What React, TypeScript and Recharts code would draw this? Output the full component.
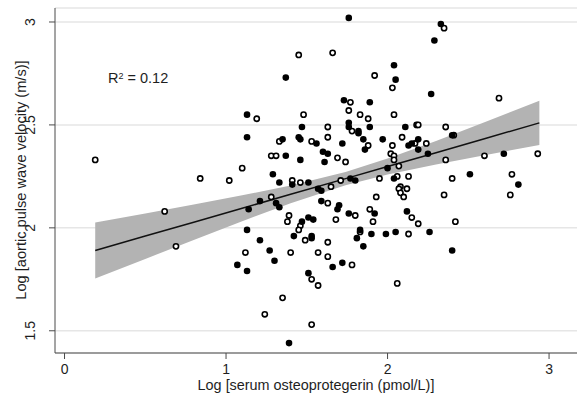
import React from 'react'
import {
  ComposedChart,
  Scatter,
  Line,
  Area,
  XAxis,
  YAxis,
  CartesianGrid,
} from 'recharts'

// hollow markers: [log OPG, log PWV]
const openPoints: [number, number][] = [
  [0.19, 2.33], [0.62, 2.08], [0.69, 1.91], [0.84, 2.24], [1.02, 2.23], [1.1, 2.29],
  [1.19, 2.53], [1.12, 1.88], [1.28, 2.35], [1.31, 2.35], [1.33, 2.42], [1.28, 2.15],
  [1.39, 2.06], [1.38, 2.03], [1.4, 1.88], [1.35, 1.66], [1.24, 1.58], [1.45, 2.84],
  [1.66, 2.85], [1.92, 2.74], [1.77, 2.61], [1.48, 2.55], [1.76, 2.57], [1.83, 2.55],
  [1.88, 2.53], [1.63, 2.49], [1.78, 2.47], [2.03, 2.68], [2.35, 2.97], [2.04, 2.55],
  [2.69, 2.63], [2.18, 2.5], [2.19, 2.5], [2.36, 2.49], [2.41, 2.45], [1.63, 2.44],
  [1.53, 2.42], [1.88, 2.4], [2.03, 2.4], [2.09, 2.44], [2.17, 2.41], [2.24, 2.41],
  [2.36, 2.33], [2.6, 2.35], [2.93, 2.36], [1.69, 2.34], [1.74, 2.32], [2.02, 2.36],
  [2.04, 2.35], [2.04, 2.33], [2.07, 2.3], [2.77, 2.26], [2.76, 2.16], [2.4, 2.24],
  [2.35, 2.16], [1.41, 2.23], [1.46, 2.22], [1.71, 2.23], [1.95, 2.24], [2.06, 2.25],
  [2.13, 2.25], [1.65, 2.2], [2.08, 2.2], [2.07, 2.19], [2.12, 2.19], [2.08, 2.17],
  [2.1, 2.15], [1.93, 2.15], [1.63, 2.12], [1.8, 2.06], [1.89, 2.09], [2.15, 2.05],
  [1.46, 2.01], [1.45, 1.99], [1.68, 2.04], [1.91, 2.03], [2.19, 2.02], [2.42, 2.03],
  [1.83, 1.98], [2.13, 1.97], [1.49, 1.94], [1.63, 1.93], [1.57, 1.88], [1.63, 1.86],
  [1.78, 1.82], [1.53, 1.75], [1.57, 1.72], [2.06, 1.73], [1.53, 1.53],
]

// solid markers
const filledPoints: [number, number][] = [
  [1.13, 2.55], [1.13, 2.44], [1.37, 2.73], [1.35, 2.43], [1.37, 2.35], [1.29, 2.26],
  [1.33, 2.22], [1.45, 2.44], [1.46, 2.43], [1.47, 2.49], [1.46, 2.33], [1.41, 2.21],
  [1.51, 2.22], [1.21, 2.13], [1.31, 2.12], [1.33, 2.1], [1.14, 2.09], [1.13, 1.99],
  [1.21, 1.94], [1.27, 1.89], [1.3, 1.84], [1.07, 1.82], [1.13, 1.79], [1.39, 1.44],
  [1.42, 1.96], [1.47, 2.03], [1.51, 2.05], [1.54, 2.04], [1.53, 1.96], [1.53, 1.95],
  [1.51, 1.78], [1.66, 1.81], [1.72, 1.83], [1.76, 3.02], [1.73, 2.62], [1.89, 2.61],
  [1.76, 2.51], [1.76, 2.49], [1.82, 2.47], [1.82, 2.46], [1.89, 2.49], [2.33, 2.99],
  [2.29, 2.91], [2.04, 2.79], [2.05, 2.72], [2.27, 2.65], [2.11, 2.49], [1.72, 2.41],
  [1.56, 2.41], [1.85, 2.43], [1.86, 2.38], [1.97, 2.43], [2.13, 2.4], [2.15, 2.41],
  [2.19, 2.43], [2.19, 2.38], [2.25, 2.36], [2.4, 2.45], [2.72, 2.36], [1.6, 2.37],
  [1.63, 2.36], [1.61, 2.32], [2.0, 2.29], [2.51, 2.26], [2.81, 2.21], [1.77, 2.24],
  [1.8, 2.23], [2.04, 2.24], [1.57, 2.19], [1.59, 2.18], [1.59, 2.13], [1.7, 2.11],
  [1.69, 2.09], [1.76, 2.07], [1.92, 2.07], [2.12, 2.08], [1.83, 1.99], [1.81, 1.95],
  [1.9, 1.97], [1.99, 1.97], [2.05, 1.98], [2.26, 1.98], [1.85, 1.91], [2.4, 1.89],
]

// fitted line and 95% CI band
const fitX = [0.19, 0.5, 0.8, 1.1, 1.4, 1.74, 2.0, 2.3, 2.6, 2.94]
const fitY = [1.89, 1.96, 2.027, 2.095, 2.163, 2.239, 2.298, 2.365, 2.433, 2.51]
const bandLow = [1.754, 1.849, 1.941, 2.032, 2.12, 2.207, 2.259, 2.308, 2.353, 2.403]
const bandHigh = [2.026, 2.07, 2.114, 2.158, 2.206, 2.271, 2.337, 2.422, 2.513, 2.617]

const xTicks = [0, 1, 2, 3]
const yTicks = [1.5, 2, 2.5, 3]

const fitData = fitX.map((x, i) => ({
  x,
  fit: fitY[i],
  band: [bandLow[i], bandHigh[i]],
}))
const openData = openPoints.map(([x, y]) => ({ x, y }))
const filledData = filledPoints.map(([x, y]) => ({ x, y }))

const FONT = '"Liberation Sans", Arial, sans-serif'
const TEXT = '#1e1e1e'
const AXIS = '#4a4a4a'

const YTick = ({ x, y, payload }: any) => {
  const tx = x - 12
  return (
    <text
      x={tx}
      y={y}
      transform={`rotate(-90 ${tx} ${y})`}
      textAnchor="middle"
      fill={TEXT}
      fontSize={14}
      fontFamily={FONT}
    >
      {payload.value}
    </text>
  )
}

const FilledDot = (props: any) => (
  <circle cx={props.cx} cy={props.cy} r={3.3} fill="#000" />
)
const OpenDot = (props: any) => (
  <circle
    cx={props.cx}
    cy={props.cy}
    r={2.6}
    fill="#fff"
    stroke="#000"
    strokeWidth={1.6}
  />
)

export default function App() {
  return (
    <div
      style={{
        position: 'absolute',
        left: 0,
        top: 0,
        width: 577,
        height: 393,
        background: '#fff',
        fontFamily: FONT,
      }}
    >
      <ComposedChart
        width={577}
        height={393}
        data={fitData}
        margin={{ top: 8, right: 0, bottom: 0, left: 0 }}
      >
        <CartesianGrid vertical={false} stroke="#e6e6e6" strokeWidth={1.5} />
        <XAxis
          dataKey="x"
          type="number"
          domain={[-0.059, 3.173]}
          ticks={xTicks}
          allowDataOverflow
          height={40}
          tickSize={6}
          tickMargin={5}
          stroke={AXIS}
          tick={{ fill: TEXT, fontSize: 14, fontFamily: FONT }}
        />
        <YAxis
          type="number"
          domain={[1.392, 3.068]}
          ticks={yTicks}
          allowDataOverflow
          width={55}
          tickSize={6}
          stroke={AXIS}
          tick={<YTick />}
        />
        <Area
          dataKey="band"
          type="linear"
          stroke="none"
          fill="#b3b3b3"
          fillOpacity={1}
          isAnimationActive={false}
        />
        <Line
          dataKey="fit"
          type="linear"
          stroke="#111"
          strokeWidth={1.5}
          dot={false}
          isAnimationActive={false}
        />
        <Scatter data={openData} dataKey="y" shape={<OpenDot />} isAnimationActive={false} />
        <Scatter data={filledData} dataKey="y" shape={<FilledDot />} isAnimationActive={false} />
      </ComposedChart>

      <div
        style={{
          position: 'absolute',
          left: 108,
          top: 70,
          fontSize: 14.5,
          lineHeight: '16px',
          color: TEXT,
          whiteSpace: 'nowrap',
        }}
      >
        R<sup style={{ fontSize: 9, verticalAlign: 'top', position: 'relative', top: -2 }}>2</sup> = 0.12
      </div>

      <div
        style={{
          position: 'absolute',
          left: 316,
          top: 385,
          transform: 'translate(-50%, -50%)',
          fontSize: 14.4,
          lineHeight: '15px',
          color: TEXT,
          whiteSpace: 'nowrap',
        }}
      >
        Log [serum osteoprotegerin (pmol/L)]
      </div>

      <div
        style={{
          position: 'absolute',
          left: 20.5,
          top: 180,
          transform: 'translate(-50%, -50%) rotate(-90deg)',
          fontSize: 14.6,
          lineHeight: '15px',
          color: TEXT,
          whiteSpace: 'nowrap',
        }}
      >
        Log [aortic pulse wave velocity (m/s)]
      </div>
    </div>
  )
}
